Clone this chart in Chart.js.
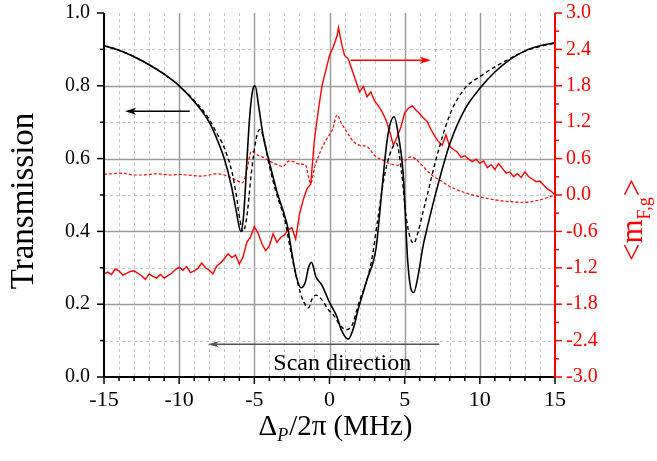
<!DOCTYPE html>
<html>
<head>
<meta charset="utf-8">
<title>Transmission and mF,g</title>
<script src="https://cdn.jsdelivr.net/npm/chart.js@4.4.1/dist/chart.umd.min.js"></script>
<style>
body { margin: 0; background: #fff; }
</style>
</head>
<body>
<canvas id="chart" width="657" height="461"></canvas>
<script>
// transmission, measured (solid) and calculated (dashed)
const transX = [-15, -14, -13, -12, -11, -10, -9, -8, -7.5, -7, -6.5, -6.2, -5.9, -5.7, -5.5, -5.3, -5.1, -4.95, -4.7, -4.4, -4, -3.5, -3, -2.8, -2.5, -2.2, -1.9, -1.6, -1.4, -1.2, -0.9, -0.5, 0, 0.5, 0.8, 1.25, 1.6, 1.9, 2.15, 2.5, 3.1, 3.5, 3.8, 4, 4.3, 4.6, 4.9, 5.2, 5.4, 5.6, 5.9, 6.2, 6.5, 7.1, 8, 9, 10, 11, 12, 13, 14, 15];
const transY = [0.910, 0.898, 0.880, 0.858, 0.832, 0.800, 0.757, 0.700, 0.655, 0.600, 0.520, 0.455, 0.400, 0.450, 0.590, 0.720, 0.790, 0.800, 0.740, 0.660, 0.590, 0.510, 0.445, 0.415, 0.340, 0.275, 0.245, 0.262, 0.300, 0.315, 0.275, 0.252, 0.205, 0.165, 0.128, 0.104, 0.135, 0.185, 0.220, 0.268, 0.355, 0.520, 0.640, 0.690, 0.715, 0.660, 0.560, 0.320, 0.245, 0.232, 0.280, 0.355, 0.410, 0.510, 0.640, 0.735, 0.793, 0.838, 0.872, 0.896, 0.910, 0.918];

const transCalcX = [-15, -14, -13, -12, -11, -10, -9, -8, -7.5, -7, -6.5, -6.2, -5.95, -5.75, -5.5, -5.2, -4.9, -4.65, -4.4, -4, -3.5, -3, -2.5, -2, -1.7, -1.4, -1.15, -0.9, -0.5, -0.1, 0.3, 0.7, 1.1, 1.5, 2, 2.4, 2.8, 3.2, 3.6, 4, 4.45, 4.8, 5.1, 5.35, 5.6, 5.9, 6.2, 6.5, 7.1, 8, 9, 10, 11, 12, 13, 14, 15];
const transCalcY = [0.910, 0.898, 0.880, 0.858, 0.832, 0.800, 0.760, 0.708, 0.670, 0.630, 0.565, 0.500, 0.430, 0.400, 0.440, 0.560, 0.650, 0.680, 0.660, 0.580, 0.500, 0.435, 0.330, 0.240, 0.205, 0.190, 0.215, 0.225, 0.212, 0.186, 0.168, 0.142, 0.130, 0.142, 0.210, 0.255, 0.320, 0.430, 0.540, 0.610, 0.642, 0.560, 0.440, 0.385, 0.367, 0.400, 0.450, 0.500, 0.600, 0.720, 0.793, 0.825, 0.852, 0.875, 0.895, 0.908, 0.918];

// <m_F,g>, measured (solid) and calculated (dashed)
const mfX = [-15, -14.75, -14.5, -14.25, -14, -13.75, -13.5, -13.25, -13, -12.75, -12.5, -12.25, -12, -11.75, -11.5, -11.25, -11, -10.75, -10.5, -10.25,
  -10, -9.75, -9.5, -9.25, -9, -8.75, -8.5, -8.25, -8, -7.75, -7.5, -7.25, -7, -6.75, -6.5, -6.25, -6, -5.75, -5.5, -5.25,
  -5, -4.75, -4.5, -4.25, -4, -3.75, -3.5, -3.25, -3, -2.75, -2.5, -2.25, -2, -1.75, -1.5, -1.25, -1, -0.75, -0.5, -0.25,
  0, 0.25, 0.5, 0.6, 0.8, 1, 1.25, 1.5, 1.75, 2, 2.25, 2.5, 2.75, 3, 3.25, 3.5, 3.75, 4, 4.25, 4.5,
  4.75, 5, 5.25, 5.5, 5.75, 6, 6.25, 6.5, 6.75, 7, 7.25, 7.5, 7.75, 8, 8.25, 8.5, 8.75, 9, 9.25, 9.5,
  9.75, 10, 10.25, 10.5, 10.75, 11, 11.25, 11.5, 11.75, 12, 12.25, 12.5, 12.75, 13, 13.25, 13.5, 13.75, 14, 14.25, 14.5,
  14.75, 15];
const mfY = [-1.30, -1.27, -1.31, -1.22, -1.25, -1.32, -1.29, -1.26, -1.25, -1.29, -1.33, -1.39, -1.30, -1.34, -1.37, -1.31, -1.37, -1.33, -1.29, -1.23,
  -1.19, -1.24, -1.18, -1.28, -1.25, -1.21, -1.12, -1.20, -1.24, -1.30, -1.17, -1.12, -1.05, -0.97, -1.03, -0.99, -1.14, -1.02, -0.78, -0.69,
  -0.52, -0.63, -0.80, -0.92, -0.84, -0.64, -0.78, -0.70, -0.66, -0.57, -0.54, -0.73, -0.32, -0.08, 0.10, 0.18, 0.92, 1.38, 1.80, 2.05,
  2.30, 2.44, 2.62, 2.76, 2.50, 2.30, 2.24, 2.06, 1.88, 1.70, 1.79, 1.62, 1.70, 1.55, 1.47, 1.37, 1.24, 1.05, 0.82, 0.96,
  1.12, 1.35, 1.43, 1.47, 1.40, 1.34, 1.27, 1.21, 1.08, 0.97, 0.88, 0.82, 0.99, 0.80, 0.75, 0.71, 0.62, 0.65, 0.59, 0.55,
  0.59, 0.52, 0.56, 0.45, 0.50, 0.42, 0.52, 0.44, 0.36, 0.38, 0.30, 0.35, 0.29, 0.38, 0.30, 0.26, 0.22, 0.23, 0.16, 0.10,
  0.06, 0.00];

const mfCalcX = [-15, -14.5, -14, -13.5, -13, -12.5, -12, -11.5, -11, -10.5, -10, -9.5, -9, -8.5, -8, -7.5, -7, -6.5, -6, -5.8, -5.5, -5.2, -4.8, -4.4, -4, -3.5, -3.1, -2.7, -2.4, -2, -1.6, -1.4, -1.25, -1, -0.6, -0.2, 0.2, 0.5, 0.8, 1.2, 1.6, 2, 2.5, 3, 3.5, 4, 4.6, 5, 5.4, 5.8, 6.2, 6.8, 7.5, 8, 9, 10, 11, 12, 13, 14, 15];
const mfCalcY = [0.34, 0.35, 0.36, 0.35, 0.33, 0.33, 0.34, 0.35, 0.34, 0.33, 0.34, 0.33, 0.32, 0.31, 0.33, 0.35, 0.33, 0.28, 0.22, 0.20, 0.40, 0.72, 0.66, 0.62, 0.56, 0.50, 0.47, 0.56, 0.55, 0.51, 0.50, 0.30, 0.19, 0.45, 0.72, 0.92, 1.08, 1.32, 1.18, 1.02, 0.88, 0.82, 0.80, 0.65, 0.58, 0.52, 0.49, 0.56, 0.63, 0.58, 0.48, 0.33, 0.22, 0.14, 0.04, -0.03, -0.08, -0.11, -0.12, -0.08, 0.00];

const xTicks = { min: -15, max: 15, step: 1, labelEvery: 5 };
const leftTicks = { min: 0, max: 1, step: 0.2, minor: 0.1 };
const rightTicks = { min: -3, max: 3, step: 0.6, minor: 0.3 };

const RED = '#ff0000';
const SERIF = '"Liberation Serif", "DejaVu Serif", serif';

function pts(xs, ys) {
  return xs.map((v, i) => ({ x: v, y: ys[i] }));
}

function arrow(ctx, x1, y1, x2, y2, color, lw, hl, hw) {
  const ang = Math.atan2(y2 - y1, x2 - x1);
  ctx.save();
  ctx.strokeStyle = color;
  ctx.fillStyle = color;
  ctx.lineWidth = lw;
  ctx.beginPath();
  ctx.moveTo(x1, y1);
  ctx.lineTo(x2 - Math.cos(ang) * hl * 0.6, y2 - Math.sin(ang) * hl * 0.6);
  ctx.stroke();
  ctx.translate(x2, y2);
  ctx.rotate(ang);
  ctx.beginPath();
  ctx.moveTo(0, 0);
  ctx.lineTo(-hl, -hw / 2);
  ctx.lineTo(-hl * 0.75, 0);
  ctx.lineTo(-hl, hw / 2);
  ctx.closePath();
  ctx.fill();
  ctx.restore();
}

const decor = {
  id: 'decor',
  beforeDatasetsDraw(chart) {
    const { ctx, chartArea: a, scales: { x, y } } = chart;
    ctx.save();
    for (let v = xTicks.min + 1; v < xTicks.max; v += xTicks.step) {
      const major = v % xTicks.labelEvery === 0;
      const px = Math.round(x.getPixelForValue(v)) + 0.5;
      ctx.strokeStyle = major ? '#9c9c9c' : '#c6c6c6';
      ctx.lineWidth = major ? 1.5 : 1;
      ctx.setLineDash(major ? [] : [3, 3]);
      ctx.beginPath();
      ctx.moveTo(px, a.top);
      ctx.lineTo(px, a.bottom);
      ctx.stroke();
    }
    for (let i = 1; i < 10; i++) {
      const major = i % 2 === 0;
      const py = Math.round(y.getPixelForValue(i * leftTicks.minor)) + 0.5;
      ctx.strokeStyle = major ? '#9c9c9c' : '#c6c6c6';
      ctx.lineWidth = major ? 1.5 : 1;
      ctx.setLineDash(major ? [] : [3, 3]);
      ctx.beginPath();
      ctx.moveTo(a.left, py);
      ctx.lineTo(a.right, py);
      ctx.stroke();
    }
    ctx.restore();
  },
  afterDatasetsDraw(chart) {
    const { ctx, scales: { x, y, y2 } } = chart;
    // direction arrows
    arrow(ctx, x.getPixelForValue(-9.3), y.getPixelForValue(0.73), x.getPixelForValue(-13.6), y.getPixelForValue(0.73), '#000', 1.5, 11, 7);
    arrow(ctx, x.getPixelForValue(1.4), y2.getPixelForValue(2.22), x.getPixelForValue(6.75), y2.getPixelForValue(2.22), RED, 1.5, 11, 7);
    arrow(ctx, x.getPixelForValue(7.3), y.getPixelForValue(0.09), x.getPixelForValue(-8.1), y.getPixelForValue(0.09), '#555', 1.5, 11, 6);
    ctx.save();
    ctx.fillStyle = '#000';
    ctx.font = '24px ' + SERIF;
    ctx.textAlign = 'center';
    ctx.textBaseline = 'alphabetic';
    ctx.fillText('Scan direction', x.getPixelForValue(0.85), y.getPixelForValue(0.02));
    ctx.restore();
  },
  afterDraw(chart) {
    const { ctx, chartArea: a, scales: { x, y, y2 } } = chart;
    ctx.save();
    // axis lines
    ctx.lineWidth = 2;
    ctx.strokeStyle = '#000';
    ctx.beginPath();
    ctx.moveTo(a.left, a.top);
    ctx.lineTo(a.left, a.bottom);
    ctx.lineTo(a.right, a.bottom);
    ctx.stroke();
    ctx.strokeStyle = RED;
    ctx.beginPath();
    ctx.moveTo(a.right, a.top);
    ctx.lineTo(a.right, a.bottom + 1);
    ctx.stroke();

    // tick marks
    ctx.lineWidth = 1.5;
    ctx.strokeStyle = '#000';
    for (let v = xTicks.min; v <= xTicks.max; v += xTicks.step) {
      const px = x.getPixelForValue(v);
      const len = v % xTicks.labelEvery === 0 ? 7 : 4;
      ctx.beginPath();
      ctx.moveTo(px, a.bottom);
      ctx.lineTo(px, a.bottom + len);
      ctx.stroke();
    }
    for (let i = 0; i <= 10; i++) {
      const py = y.getPixelForValue(i * leftTicks.minor);
      const len = i % 2 === 0 ? 7 : 4;
      ctx.beginPath();
      ctx.moveTo(a.left, py);
      ctx.lineTo(a.left - len, py);
      ctx.stroke();
    }
    ctx.strokeStyle = RED;
    for (let i = 0; i <= 20; i++) {
      const py = y2.getPixelForValue(rightTicks.min + i * rightTicks.minor);
      const len = i % 2 === 0 ? 7 : 4;
      ctx.beginPath();
      ctx.moveTo(a.right, py);
      ctx.lineTo(a.right + len, py);
      ctx.stroke();
    }

    // left title
    ctx.fillStyle = '#000';
    ctx.font = '33px ' + SERIF;
    ctx.textBaseline = 'alphabetic';
    ctx.save();
    ctx.translate(33, 201);
    ctx.rotate(-Math.PI / 2);
    ctx.textAlign = 'center';
    ctx.fillText('Transmission', 0, 0);
    ctx.restore();

    // right title <m_F,g>
    ctx.save();
    ctx.fillStyle = RED;
    ctx.translate(642, 261);
    ctx.rotate(-Math.PI / 2);
    ctx.textAlign = 'left';
    ctx.font = '31px ' + SERIF;
    ctx.fillText('<m', 0, 0);
    let w = ctx.measureText('<m').width;
    ctx.font = '18px ' + SERIF;
    ctx.fillText('F,g', w, 8);
    w += ctx.measureText('F,g').width + 1;
    ctx.font = '31px ' + SERIF;
    ctx.fillText('>', w, 0);
    ctx.restore();

    // bottom title Δ_P/2π (MHz)
    ctx.save();
    ctx.fillStyle = '#000';
    ctx.textAlign = 'left';
    const big = '29px ' + SERIF, sub = 'italic 18px ' + SERIF;
    ctx.font = big;
    const w1 = ctx.measureText('\u0394').width;
    const w3 = ctx.measureText('/2\u03c0 (MHz)').width;
    ctx.font = sub;
    const w2 = ctx.measureText('P').width + 1;
    const sx = (a.left + a.right) / 2 - (w1 + w2 + w3) / 2 + 6;
    const by = 435;
    ctx.font = big;
    ctx.fillText('\u0394', sx, by);
    ctx.font = sub;
    ctx.fillText('P', sx + w1, by + 6);
    ctx.font = big;
    ctx.fillText('/2\u03c0 (MHz)', sx + w1 + w2, by);
    ctx.restore();

    ctx.restore();
  }
};

Chart.defaults.font.family = SERIF;

new Chart(document.getElementById('chart').getContext('2d'), {
  type: 'line',
  data: {
    datasets: [
      {
        label: 'Transmission',
        data: pts(transX, transY),
        yAxisID: 'y',
        borderColor: '#000',
        borderWidth: 1.6,
        cubicInterpolationMode: 'monotone',
        pointRadius: 0
      },
      {
        label: 'Transmission (calc)',
        data: pts(transCalcX, transCalcY),
        yAxisID: 'y',
        borderColor: '#000',
        borderWidth: 1.4,
        borderDash: [4, 3],
        cubicInterpolationMode: 'monotone',
        pointRadius: 0
      },
      {
        label: '<mF,g>',
        data: pts(mfX, mfY),
        yAxisID: 'y2',
        borderColor: RED,
        borderWidth: 1.4,
        tension: 0,
        pointRadius: 0
      },
      {
        label: '<mF,g> (calc)',
        data: pts(mfCalcX, mfCalcY),
        yAxisID: 'y2',
        borderColor: RED,
        borderWidth: 1.2,
        borderDash: [3, 2],
        cubicInterpolationMode: 'monotone',
        pointRadius: 0
      }
    ]
  },
  options: {
    responsive: false,
    animation: false,
    layout: { padding: { top: 13, left: 0, right: 0, bottom: 0 } },
    plugins: { legend: { display: false }, tooltip: { enabled: false } },
    scales: {
      x: {
        type: 'linear',
        min: xTicks.min,
        max: xTicks.max,
        grid: { display: false, drawTicks: false },
        border: { display: false },
        ticks: {
          stepSize: xTicks.step,
          autoSkip: false,
          maxRotation: 0,
          padding: 10,
          color: '#000',
          font: { size: 22 },
          callback: v => (v % xTicks.labelEvery === 0 ? String(v) : '')
        },
        afterFit: s => { s.height = 84; s.paddingLeft = 0; s.paddingRight = 0; }
      },
      y: {
        position: 'left',
        min: leftTicks.min,
        max: leftTicks.max,
        grid: { display: false, drawTicks: false },
        border: { display: false },
        ticks: {
          stepSize: leftTicks.step,
          padding: 14,
          color: '#000',
          font: { size: 20 },
          callback: v => Math.abs(v).toFixed(1)
        },
        afterFit: s => { s.width = 104; s.paddingTop = 0; s.paddingBottom = 0; }
      },
      y2: {
        position: 'right',
        min: rightTicks.min,
        max: rightTicks.max,
        grid: { display: false, drawTicks: false },
        border: { display: false },
        ticks: {
          stepSize: rightTicks.step,
          padding: 11,
          color: RED,
          font: { size: 20 },
          callback: v => (Math.abs(v) < 1e-9 ? '0.0' : v.toFixed(1))
        },
        afterFit: s => { s.width = 102; s.paddingTop = 0; s.paddingBottom = 0; }
      }
    }
  },
  plugins: [decor]
});
</script>
</body>
</html>
